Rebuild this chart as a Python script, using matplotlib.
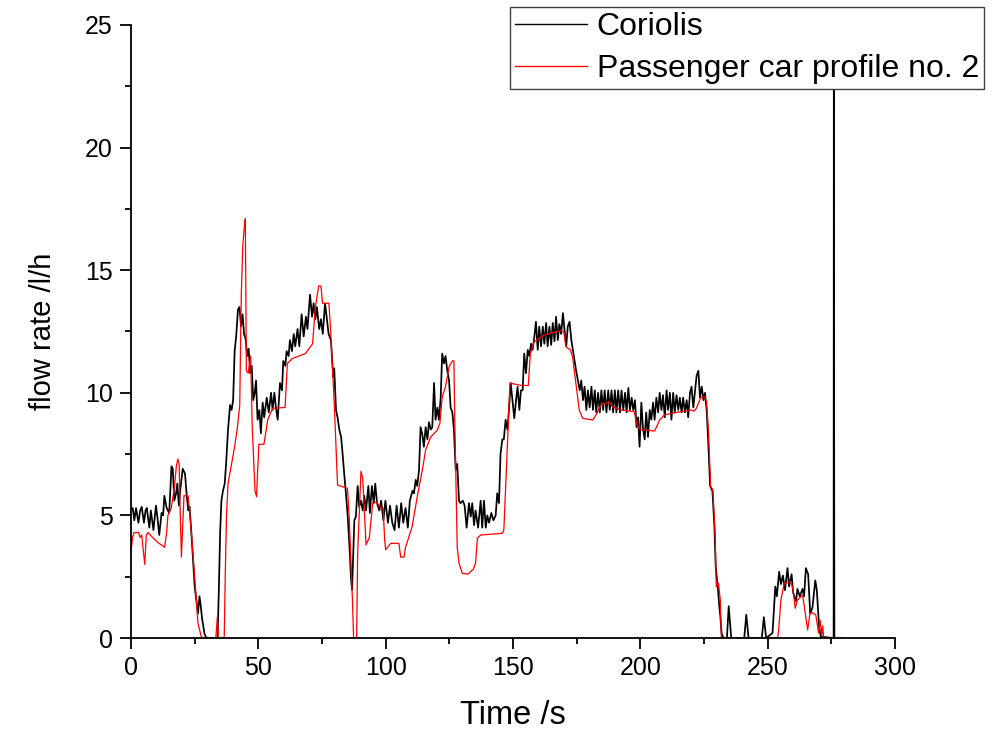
import numpy as np
import matplotlib
matplotlib.use("Agg")
import matplotlib.pyplot as plt
from matplotlib.ticker import MultipleLocator

plt.rcParams['font.family'] = ['Liberation Sans', 'DejaVu Sans']

# Coriolis measurement (time s, flow l/h)
cor_t = [0.0, 0.7, 1.3, 2.0, 2.9, 3.6, 4.2, 5.1, 5.7, 6.2, 7.2, 7.8, 8.8, 9.8, 10.4, 11.1, 12.0, 12.6, 13.1, 14.0,
         15.0, 15.9, 16.4, 17.0, 17.7, 18.2, 18.8, 19.2, 20.3, 21.2, 21.9, 22.5, 23.0, 23.7, 24.5, 25.0, 25.8, 26.3,
         26.9, 27.4, 27.9, 28.9, 29.7, 34.0, 34.5, 35.0, 35.5, 36.1, 36.8, 37.4, 38.1, 38.9, 39.5, 40.1, 40.7, 41.3,
         42.0, 42.6, 43.2, 43.8, 44.4, 45.0, 45.6, 46.2, 46.8, 47.4, 48.0, 48.6, 49.1, 49.7, 50.4, 51.0, 51.7, 52.3,
         53.3, 54.1, 55.0, 55.6, 56.3, 56.9, 57.6, 58.5, 59.3, 59.8, 60.6, 61.1, 61.9, 62.4, 63.2, 63.9, 64.5, 65.4,
         66.1, 67.0, 67.8, 68.7, 69.3, 70.3, 71.1, 71.7, 72.4, 73.0, 73.9, 74.6, 75.3, 76.2, 76.8, 77.6, 78.5, 79.4,
         79.8, 80.5, 81.1, 81.8, 82.5, 83.1, 83.8, 84.4, 85.1, 85.7, 86.4, 86.8, 87.3, 87.7, 88.3, 89.0, 89.6, 90.3,
         91.0, 91.6, 92.3, 93.2, 93.8, 94.6, 95.3, 95.9, 96.6, 97.5, 98.2, 99.1, 99.9, 100.9, 101.7, 102.6, 103.5,
         104.3, 105.2, 106.1, 106.9, 107.8, 108.7, 109.5, 110.5, 111.1, 111.8, 112.4, 113.1, 113.7, 114.4, 115.0,
         115.7, 116.4, 117.0, 117.7, 118.3, 119.0, 119.6, 120.3, 120.9, 121.6, 122.2, 122.9, 123.5, 124.2, 124.9,
         125.5, 126.2, 126.8, 127.5, 128.1, 128.8, 129.4, 130.3, 131.0, 131.8, 132.7, 133.4, 134.0, 134.7, 135.3,
         136.3, 137.3, 137.9, 138.6, 139.3, 139.9, 140.6, 141.5, 142.3, 143.2, 143.8, 144.5, 145.1, 145.8, 146.4,
         147.1, 147.8, 148.4, 149.1, 149.8, 150.5, 151.2, 151.8, 152.5, 153.1, 153.8, 154.4, 155.1, 155.8, 156.4,
         157.1, 157.7, 158.4, 159.0, 159.7, 160.3, 161.0, 161.7, 162.3, 163.0, 163.6, 164.3, 165.0, 165.6, 166.3,
         166.9, 167.6, 168.2, 168.9, 169.6, 170.2, 170.9, 171.5, 172.2, 172.9, 173.5, 174.2, 174.8, 175.5, 176.2,
         176.8, 177.5, 178.1, 178.8, 179.4, 180.1, 180.8, 181.4, 182.1, 182.7, 183.4, 184.1, 184.7, 185.4, 186.0,
         186.7, 187.4, 188.0, 188.7, 189.3, 190.0, 190.6, 191.3, 192.0, 192.6, 193.3, 194.0, 194.6, 195.3, 195.9,
         196.6, 197.2, 197.9, 198.5, 199.1, 199.7, 200.4, 201.0, 201.7, 202.3, 203.0, 203.7, 204.3, 205.0, 205.6,
         206.3, 207.0, 207.6, 208.3, 208.9, 209.6, 210.3, 210.9, 211.6, 212.2, 212.9, 213.5, 214.2, 214.9, 215.5,
         216.2, 216.8, 217.5, 218.2, 218.8, 219.5, 220.1, 220.8, 221.5, 222.1, 222.8, 223.4, 224.1, 224.8, 225.4,
         226.1, 226.7, 227.4, 228.3, 229.1, 229.6, 230.4, 231.0, 231.4, 231.9, 232.6, 234.0, 234.7, 235.7, 240.8,
         241.6, 242.5, 247.7, 248.5, 249.4, 251.9, 253.0, 253.6, 254.5, 255.2, 256.0, 256.8, 257.8, 258.4, 259.4,
         260.0, 261.1, 261.7, 262.6, 263.7, 264.3, 265.0, 265.9, 266.7, 267.6, 268.7, 269.3, 270.2, 270.9, 275.9,
         276.0, 276.1, 276.2, 278.0]
cor_v = [5.2, 5.3, 4.8, 5.3, 4.7, 5.2, 5.35, 4.7, 5.2, 5.3, 4.5, 5.2, 4.4, 5.4, 4.9, 4.2, 5.1, 5.0, 5.8, 5.3,
         5.1, 7.0, 6.9, 5.6, 5.9, 6.3, 5.4, 5.9, 6.9, 6.7, 5.8, 5.2, 5.35, 4.3, 2.9, 2.1, 1.4, 1.0,
         1.7, 1.3, 0.8, 0.15, 0.0, 0.0, 2.0, 4.3, 5.6, 6.0, 6.3, 7.2, 8.5, 9.5, 9.3, 9.7, 11.7, 12.3,
         13.4, 13.5, 12.7, 13.2, 12.4, 12.2, 11.5, 11.8, 10.8, 11.1, 9.7, 10.0, 10.5, 8.9, 9.3, 8.35, 9.6, 9.0,
         9.8, 9.2, 10.0, 9.3, 10.0, 9.4, 8.9, 10.4, 10.1, 11.3, 11.1, 11.7, 11.5, 12.15, 11.7, 12.4, 11.9, 12.6,
         11.9, 13.2, 12.3, 13.1, 12.6, 14.0, 13.1, 13.65, 13.0, 13.5, 12.6, 13.0, 12.4, 13.65, 13.1, 12.4, 12.15, 10.65,
         11.0, 9.3, 9.0, 8.5, 8.2, 7.5, 6.6, 5.9, 4.95, 3.9, 2.4, 1.96, 3.5, 4.8, 4.95, 6.2, 5.35, 5.6,
         5.2, 5.8, 5.2, 6.2, 5.1, 6.2, 5.5, 6.3, 5.5, 5.2, 5.6, 4.8, 5.6, 4.7, 5.4, 4.7, 4.4,
         5.4, 4.5, 5.5, 4.7, 5.3, 4.5, 5.6, 6.0, 5.9, 6.45, 6.2, 6.85, 8.6, 8.3, 7.8,
         8.6, 8.1, 8.8, 8.5, 8.6, 10.4, 8.9, 9.4, 8.9, 9.8, 11.6, 11.2, 11.5, 10.9, 10.5,
         9.4, 9.2, 8.5, 6.85, 7.1, 5.6, 5.5, 5.6, 5.4, 4.5, 5.5, 4.95, 5.5, 4.6, 5.2,
         4.5, 5.6, 4.5, 5.6, 4.5, 5.0, 4.7, 5.1, 4.8, 5.0, 5.9, 5.5, 7.5, 8.1, 8.1,
         8.9, 8.5, 9.3, 10.4, 9.7, 8.96, 9.7, 10.25, 9.3, 10.1, 10.1, 11.6, 10.8, 11.75, 11.5,
         12.0, 11.75, 12.3, 12.9, 11.75, 12.7, 11.9, 12.7, 12.0, 12.85, 11.9, 12.7, 11.95, 12.85, 12.1,
         13.1, 12.15, 12.8, 12.4, 13.25, 12.6, 11.9, 12.7, 12.9, 12.15, 11.75, 11.3, 10.9, 10.5, 10.1,
         10.5, 9.7, 10.25, 9.3, 10.1, 9.4, 10.25, 9.3, 10.1, 9.2, 10.0, 9.2, 10.1, 9.3, 10.1,
         9.2, 10.1, 9.3, 10.1, 9.2, 10.1, 9.2, 10.1, 9.2, 10.1, 9.3, 10.0, 9.2, 10.2, 9.3,
         9.8, 9.3, 9.7, 8.6, 9.0, 7.8, 9.6, 8.6, 8.1, 9.2, 8.2, 9.3, 8.9, 9.6, 8.9,
         9.8, 9.2, 10.0, 9.3, 9.9, 9.0, 10.1, 9.3, 10.0, 8.9, 10.0, 9.2, 9.9, 9.3, 9.8,
         9.2, 9.8, 9.2, 9.7, 9.0, 10.0, 10.25, 9.4, 10.1, 10.7, 10.9, 9.8, 10.25, 9.7, 10.0,
         9.2, 7.9, 6.2, 6.0, 4.5, 2.9, 2.1, 1.3, 0.9, 0.2, 0.0, 0.0, 1.3, 0.0, 0.0,
         0.95, 0.0, 0.0, 0.85, 0.0, 0.2, 2.1, 1.7, 2.7, 2.2, 2.55, 1.95, 2.85, 2.1, 2.6,
         1.85, 1.5, 2.0, 1.7, 2.0, 1.7, 2.85, 2.6, 1.0, 1.25, 2.35, 1.95, 0.45, 0.05, 0.0,
         30.0, 8.5, 0.0, 0.0]

# Passenger car profile no. 2
car_t = [0.0, 0.6, 1.2, 3.0, 3.6, 4.2, 5.0, 5.4, 6.0, 6.7, 8.5, 10.5, 13.2, 14.0, 14.5, 15.8, 17.1, 17.8, 18.4,
         18.9, 19.3, 19.8, 20.3, 20.8, 22.4, 23.0, 23.7, 25.0, 26.3, 27.6, 28.5, 33.3, 33.9, 34.3, 36.6, 37.0,
         37.5, 38.1, 39.5, 40.7, 41.8, 42.7, 43.3, 43.9, 44.6, 44.9, 45.3, 46.0, 47.0, 47.6, 48.7, 49.3, 50.2,
         52.2, 53.7, 55.6, 60.5, 61.4, 63.4, 68.5, 71.3, 72.4, 73.7, 74.6, 75.2, 77.7, 78.3, 79.8, 81.1, 85.0,
         85.7, 87.0, 87.4, 88.6, 89.0, 90.3, 91.0, 92.3, 93.6, 94.9, 96.2, 98.2, 99.0, 99.6, 100.0, 102.0, 105.2,
         105.9, 107.2, 107.8, 110.4, 112.4, 114.4, 115.7, 117.7, 120.3, 121.3, 122.2, 123.5, 124.9, 126.2, 126.8,
         127.2, 128.1, 128.8, 130.1, 132.2, 134.4, 135.3, 136.0, 137.3, 145.8, 146.4, 147.5, 148.8, 153.1, 156.0,
         156.8, 158.3, 162.3, 166.2, 168.8, 169.9, 170.8, 172.5, 173.4, 174.7, 176.0, 177.4, 181.3, 182.6, 184.5,
         187.8, 189.1, 192.4, 197.6, 198.7, 200.0, 205.6, 207.6, 209.5, 213.5, 220.0, 221.1, 222.0, 223.9, 225.2,
         226.0, 226.8, 227.6, 228.5, 229.4, 229.8, 230.7, 231.4, 231.8, 253.9, 254.3, 255.2, 256.5, 259.1, 260.0,
         260.8, 261.7, 263.7, 264.3, 265.7, 266.6, 267.6, 268.9, 270.0, 270.6, 271.2, 271.6, 272.0, 279.5]
car_v = [3.5, 4.1, 4.3, 4.3, 4.1, 4.2, 3.4, 3.0, 4.2, 4.3, 4.1, 3.9, 3.7, 4.3, 5.0, 5.3, 6.2, 7.0, 7.3,
         7.1, 5.2, 3.3, 4.5, 5.8, 5.8, 5.2, 4.3, 2.5, 0.6, 0.05, 0.0, 0.0, 0.85, 0.0, 0.0, 2.5,
         5.0, 6.3, 7.1, 7.8, 8.6, 9.5, 14.0, 16.0, 16.9, 17.1, 10.9, 10.8, 11.5, 8.6, 6.0, 5.76, 7.9,
         7.9, 8.9, 9.37, 9.4, 11.2, 11.4, 11.6, 12.0, 13.5, 14.36, 14.36, 13.65, 13.65, 12.7, 9.6, 6.24, 6.1,
         4.9, 1.4, 0.0, 0.0, 3.45, 6.8, 6.5, 3.8, 4.1, 5.5, 5.55, 5.3, 5.3, 4.0, 3.6, 3.86, 3.86,
         3.3, 3.3, 3.7, 4.54, 5.76, 6.85, 7.67, 8.2, 8.48, 8.76, 9.84, 10.25, 11.06, 11.3, 11.3,
         8.5, 3.7, 3.05, 2.64, 2.6, 2.8, 3.05, 4.06, 4.2, 4.27, 4.4, 7.1, 10.4, 10.3, 10.3,
         11.6, 12.08, 12.36, 12.47, 12.53, 12.5, 11.88, 11.75, 11.47, 10.39, 9.3, 8.96, 8.89, 9.1, 9.5,
         9.64, 9.43, 9.3, 9.23, 8.69, 8.5, 8.44, 8.89, 9.1, 9.19, 9.3, 9.25, 9.37, 9.84, 9.84,
         9.64, 8.35, 6.17, 6.04, 4.13, 2.09, 2.23, 1.55, 0.0, 0.0, 0.3, 1.55, 2.23, 2.3, 1.96,
         1.21, 1.55, 1.75, 1.35, 0.33, 1.0, 1.03, 0.94, 0.2, 0.73, 0.1, 0.5, 0.0, 0.0]

series_labels = ["Coriolis", "Passenger car profile no. 2"]
x_ticks = [0, 50, 100, 150, 200, 250, 300]
y_ticks = [0, 5, 10, 15, 20, 25]

fig = plt.figure(figsize=(9.93, 7.33), dpi=100)
ax = fig.add_axes([131/993, 95/733, (895-131)/993, (638-25)/733])

ax.plot(cor_t, cor_v, color='black', lw=1.25, label=series_labels[0])
ax.plot(car_t, car_v, color='#ff0000', lw=0.9, label=series_labels[1])

ax.set_xlim(0, 300)
ax.set_ylim(0, 25)
ax.set_xticks(x_ticks)
ax.set_yticks(y_ticks)
ax.xaxis.set_minor_locator(MultipleLocator(25))
ax.yaxis.set_minor_locator(MultipleLocator(2.5))
ax.tick_params(which='major', direction='out', length=8, width=1.3, labelsize=18, pad=5)
ax.tick_params(which='minor', direction='out', length=4.5, width=1.3)
for s in ['top', 'right']:
    ax.spines[s].set_visible(False)
for s in ['left', 'bottom']:
    ax.spines[s].set_linewidth(1.3)

ax.set_xlabel("Time /s", fontsize=23.5, labelpad=14)
ax.set_ylabel("flow rate /l/h", fontsize=21, labelpad=20)

leg = fig.legend(loc='upper right', bbox_to_anchor=(984/993, 1 - 7/733), fontsize=23,
                 frameon=True, fancybox=False, handlelength=2.25, handletextpad=0.3,
                 borderpad=0.16, labelspacing=0.38, borderaxespad=0, framealpha=1)
leg.get_frame().set_edgecolor('#404040')
leg.get_frame().set_linewidth(1.0)
for l in leg.get_lines():
    l.set_linewidth(1.0)

fig.savefig("out.png", dpi=100)
